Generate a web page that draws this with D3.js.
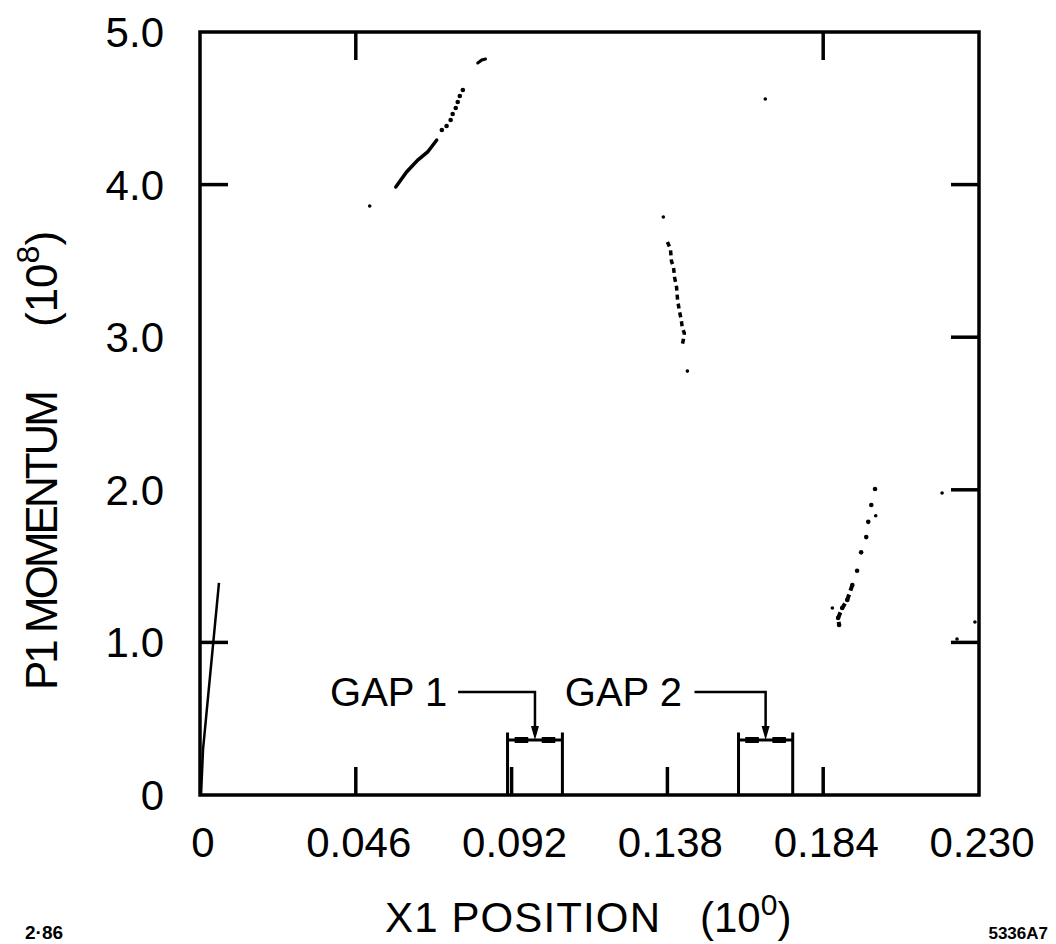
<!DOCTYPE html>
<html>
<head>
<meta charset="utf-8">
<script src="https://cdn.jsdelivr.net/npm/d3@7"></script>
<style>
	body { margin: 0; background: #fff; }
	text { font-family: 'Liberation Sans', Arial, sans-serif; fill: #000; }
</style>
</head>
<body>
<svg id="svg" width="1056" height="944"></svg>
<script>
// axis ticks
const xTicks = [0, 0.046, 0.092, 0.138, 0.184, 0.230]
const xTickLabels = ['0', '0.046', '0.092', '0.138', '0.184', '0.230']
const yTicks = [0, 1, 2, 3, 4, 5]
const yTickLabels = ['0', '1.0', '2.0', '3.0', '4.0', '5.0']

// which ticks got drawn on each side of the frame
const bottomTicks = [0.046, 0.092, 0.138, 0.184]
const topTicks = [0.046, 0.184]
const leftTicks = [1, 4]
const rightTicks = [1, 2, 3, 4]

// track near 0.06-0.08: solid part then dotted part
const trackASolid = [[0.0578, 3.984], [0.0610, 4.083], [0.0643, 4.161], [0.0672, 4.214], [0.0699, 4.292]]
const trackADots = [[0.0714, 4.358], [0.0728, 4.384], [0.0740, 4.423], [0.0746, 4.463], [0.0755, 4.502],
	[0.0761, 4.541], [0.0767, 4.581], [0.0776, 4.620]]
const trackAHook = [[0.0820, 4.797], [0.0832, 4.817], [0.0843, 4.823]]

// track near 0.14
const trackB = [[0.1380, 3.624], [0.1389, 3.578], [0.1392, 3.499], [0.1398, 3.460], [0.1401, 3.394],
	[0.1407, 3.329], [0.1410, 3.244], [0.1416, 3.165], [0.1421, 3.113], [0.1424, 3.060], [0.1430, 3.027],
	[0.1427, 2.982], [0.1424, 2.949]]

// track near 0.19
const trackC = [[0.1993, 2.005], [0.1982, 1.90], [0.1973, 1.79], [0.1967, 1.69], [0.1952, 1.59],
	[0.1940, 1.47], [0.1926, 1.376], [0.1911, 1.278], [0.1896, 1.225], [0.1884, 1.16], [0.1887, 1.114]]

// lone hits
const strayDots = [[0.0501, 3.860], [0.1368, 3.788], [0.1439, 2.778], [0.1669, 4.561], [0.1867, 1.225],
	[0.2191, 1.979], [0.2235, 1.022], [0.2288, 1.134], [0.1995, 1.83]]

// track along the left edge
const trackE = [[0.0003, 0.0], [0.0009, 0.30], [0.0056, 1.39]]

// gaps: x range, box height, bracket level, label
const gaps = [
	{ label: 'GAP 1', x0: 0.0908, x1: 0.1070, top: 0.41, bar: 0.36, labelX: 0.0384, lineX: 0.0762 },
	{ label: 'GAP 2', x0: 0.1590, x1: 0.1750, top: 0.41, bar: 0.36, labelX: 0.1077, lineX: 0.1460 }
]
const gapLabelY = 0.675

const $svg = d3.select('#svg')

const scaleX = d3.scaleLinear().domain([0, 0.23]).range([200, 979])
const scaleY = d3.scaleLinear().domain([0, 5]).range([795, 32])

const line = d3.line().x(d => scaleX(d[0])).y(d => scaleY(d[1]))

// frame
$svg.append('rect')
	.attr('x', scaleX(0)).attr('y', scaleY(5))
	.attr('width', scaleX(0.23) - scaleX(0))
	.attr('height', scaleY(0) - scaleY(5))
	.attr('fill', 'none').attr('stroke', '#000').attr('stroke-width', 3.5)

const tickLen = 28
const tick = (x1, y1, x2, y2) => $svg.append('line')
	.attr('x1', x1).attr('y1', y1).attr('x2', x2).attr('y2', y2)
	.attr('stroke', '#000').attr('stroke-width', 3.5)

bottomTicks.forEach(v => tick(scaleX(v), scaleY(0), scaleX(v), scaleY(0) - tickLen))
topTicks.forEach(v => tick(scaleX(v), scaleY(5), scaleX(v), scaleY(5) + tickLen))
leftTicks.forEach(v => tick(scaleX(0), scaleY(v), scaleX(0) + tickLen, scaleY(v)))
rightTicks.forEach(v => tick(scaleX(0.23), scaleY(v), scaleX(0.23) - tickLen, scaleY(v)))

// tick labels
$svg.append('g').selectAll('text')
	.data(xTicks)
	.join('text')
	.attr('x', d => scaleX(d) + 3)
	.attr('y', 857)
	.attr('text-anchor', 'middle')
	.attr('font-size', 42)
	.text((d, i) => xTickLabels[i])

$svg.append('g').selectAll('text')
	.data(yTicks)
	.join('text')
	.attr('x', 164)
	.attr('y', d => scaleY(d) + 15)
	.attr('text-anchor', 'end')
	.attr('font-size', 42)
	.text((d, i) => yTickLabels[i])

// axis titles
$svg.append('text').attr('x', 385).attr('y', 932).attr('font-size', 42).attr('textLength', 275)
	.text('X1 POSITION')
const xUnit = $svg.append('text').attr('x', 700).attr('y', 932).attr('font-size', 42)
xUnit.append('tspan').text('(10')
xUnit.append('tspan').attr('dy', -17).attr('font-size', 30).text('0')
xUnit.append('tspan').attr('dy', 17).text(')')

const yTitle = $svg.append('g').attr('transform', 'translate(57,0) rotate(-90)')
yTitle.append('text').attr('x', -690).attr('y', 0).attr('font-size', 44).attr('textLength', 300)
	.text('P1 MOMENTUM')
const yUnit = yTitle.append('text').attr('x', -327).attr('y', 0).attr('font-size', 44)
yUnit.append('tspan').text('(10')
yUnit.append('tspan').attr('dy', -18).attr('font-size', 32).text('8')
yUnit.append('tspan').attr('dy', 18).text(')')

// plate numbers
$svg.append('text').attr('x', 25).attr('y', 939).attr('font-size', 19).attr('font-weight', 'bold')
	.text('2·86')
$svg.append('text').attr('x', 1048).attr('y', 939).attr('font-size', 17).attr('font-weight', 'bold')
	.attr('text-anchor', 'end').text('5336A7')

// tracks
$svg.append('path').attr('d', line(trackE))
	.attr('fill', 'none').attr('stroke', '#000').attr('stroke-width', 2.5)

$svg.append('path').attr('d', line(trackASolid))
	.attr('fill', 'none').attr('stroke', '#000').attr('stroke-width', 3.5).attr('stroke-linecap', 'round')
$svg.append('path').attr('d', line(trackAHook))
	.attr('fill', 'none').attr('stroke', '#000').attr('stroke-width', 3).attr('stroke-linecap', 'round')

$svg.append('path').attr('d', line(trackB))
	.attr('fill', 'none').attr('stroke', '#000').attr('stroke-width', 3.5)
	.attr('stroke-dasharray', '5,4')

$svg.append('g').selectAll('circle')
	.data(trackADots.concat(trackC))
	.join('circle')
	.attr('cx', d => scaleX(d[0]))
	.attr('cy', d => scaleY(d[1]))
	.attr('r', 2.3)
	.attr('fill', '#000')

$svg.append('path').attr('d', line(trackC.slice(6)))
	.attr('fill', 'none').attr('stroke', '#000').attr('stroke-width', 4).attr('stroke-dasharray', '6,4')

$svg.append('g').selectAll('circle')
	.data(strayDots)
	.join('circle')
	.attr('cx', d => scaleX(d[0]))
	.attr('cy', d => scaleY(d[1]))
	.attr('r', 1.8)
	.attr('fill', '#000')

// gap boxes with their labels and arrows
gaps.forEach(g => {
	const mid = (g.x0 + g.x1) / 2
	$svg.append('path')
		.attr('d', line([[g.x0, 0], [g.x0, g.top]]) + line([[g.x1, 0], [g.x1, g.top]]))
		.attr('fill', 'none').attr('stroke', '#000').attr('stroke-width', 3)
	$svg.append('path')
		.attr('d', line([[g.x0, g.bar], [g.x1, g.bar]]))
		.attr('stroke', '#000').attr('stroke-width', 3)
	$svg.append('path')
		.attr('d', line([[mid - 0.006, g.bar], [mid - 0.002, g.bar]]) + line([[mid + 0.002, g.bar], [mid + 0.006, g.bar]]))
		.attr('stroke', '#000').attr('stroke-width', 6)
	$svg.append('path')
		.attr('d', line([[g.lineX, gapLabelY], [mid, gapLabelY], [mid, g.bar + 0.04]]))
		.attr('fill', 'none').attr('stroke', '#000').attr('stroke-width', 2.5)
	const tx = scaleX(mid), ty = scaleY(g.bar)
	$svg.append('path')
		.attr('d', `M${tx - 4},${ty - 14}L${tx + 4},${ty - 14}L${tx},${ty}Z`)
		.attr('fill', '#000')
	$svg.append('text')
		.attr('x', scaleX(g.labelX)).attr('y', scaleY(gapLabelY) + 14)
		.attr('font-size', 40)
		.text(g.label)
})
</script>
</body>
</html>
